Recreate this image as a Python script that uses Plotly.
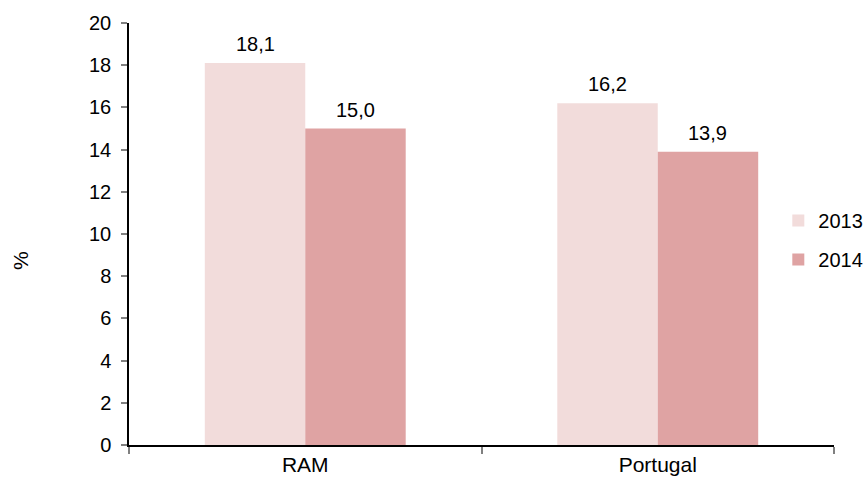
import plotly.graph_objects as go

categories = ["RAM", "Portugal"]
years = ["2013", "2014"]
values_2013 = [18.1, 16.2]
values_2014 = [15.0, 13.9]
colors = ["#F2DCDB", "#DFA3A3"]

FONT = "Liberation Sans, Arial"

fig = go.Figure()
for name, vals, col in zip(years, [values_2013, values_2014], colors):
    fig.add_trace(go.Bar(
        x=categories, y=vals, name=name, legendgroup=name,
        marker=dict(color=col, line=dict(width=0)),
        showlegend=True,
    ))

# value labels above bars, positioned via the data scale
offsets = [-0.1425, 0.1425]
for vals, off in zip([values_2013, values_2014], offsets):
    for i, v in enumerate(vals):
        fig.add_annotation(
            x=i + off, y=v, xref="x", yref="y",
            text=f"{v:.1f}".replace(".", ","), showarrow=False,
            yanchor="bottom", yshift=6,
            font=dict(family=FONT, size=20, color="black"),
        )

fig.add_annotation(
    x=-(129 - 20) / 705, y=0.436, xref="paper", yref="paper",
    xanchor="center", yanchor="middle",
    text="%", textangle=-90, showarrow=False,
    font=dict(family=FONT, size=21, color="black"),
)

fig.update_layout(
    width=863, height=480,
    barmode="group", bargap=0.43, bargroupgap=0,
    plot_bgcolor="white", paper_bgcolor="white",
    margin=dict(l=129, r=29, t=23, b=35, autoexpand=False),
    font=dict(family=FONT, size=20, color="black"),
    showlegend=True,
    legend=dict(x=0.921, y=0.578, xanchor="left", yanchor="top",
                bgcolor="rgba(0,0,0,0)", font=dict(size=20),
                traceorder="grouped", tracegroupgap=10,
                itemwidth=30),
    xaxis=dict(showline=True, linecolor="black", linewidth=1.5,
               ticks="outside", tickson="boundaries", ticklen=7,
               tickcolor="#808080", tickwidth=2, automargin=False,
               tickfont=dict(size=21), showgrid=False),
    yaxis=dict(range=[0, 20], dtick=2, showline=True, linecolor="black",
               linewidth=1.5, ticks="outside", ticklen=6, tickcolor="#808080",
               tickwidth=2, showgrid=False, zeroline=False, automargin=False,
               ticklabelstandoff=6, tickfont=dict(size=20)),
)

fig.write_html("out.html", config={"displayModeBar": False},
               post_script="document.body.style.margin='0';")
